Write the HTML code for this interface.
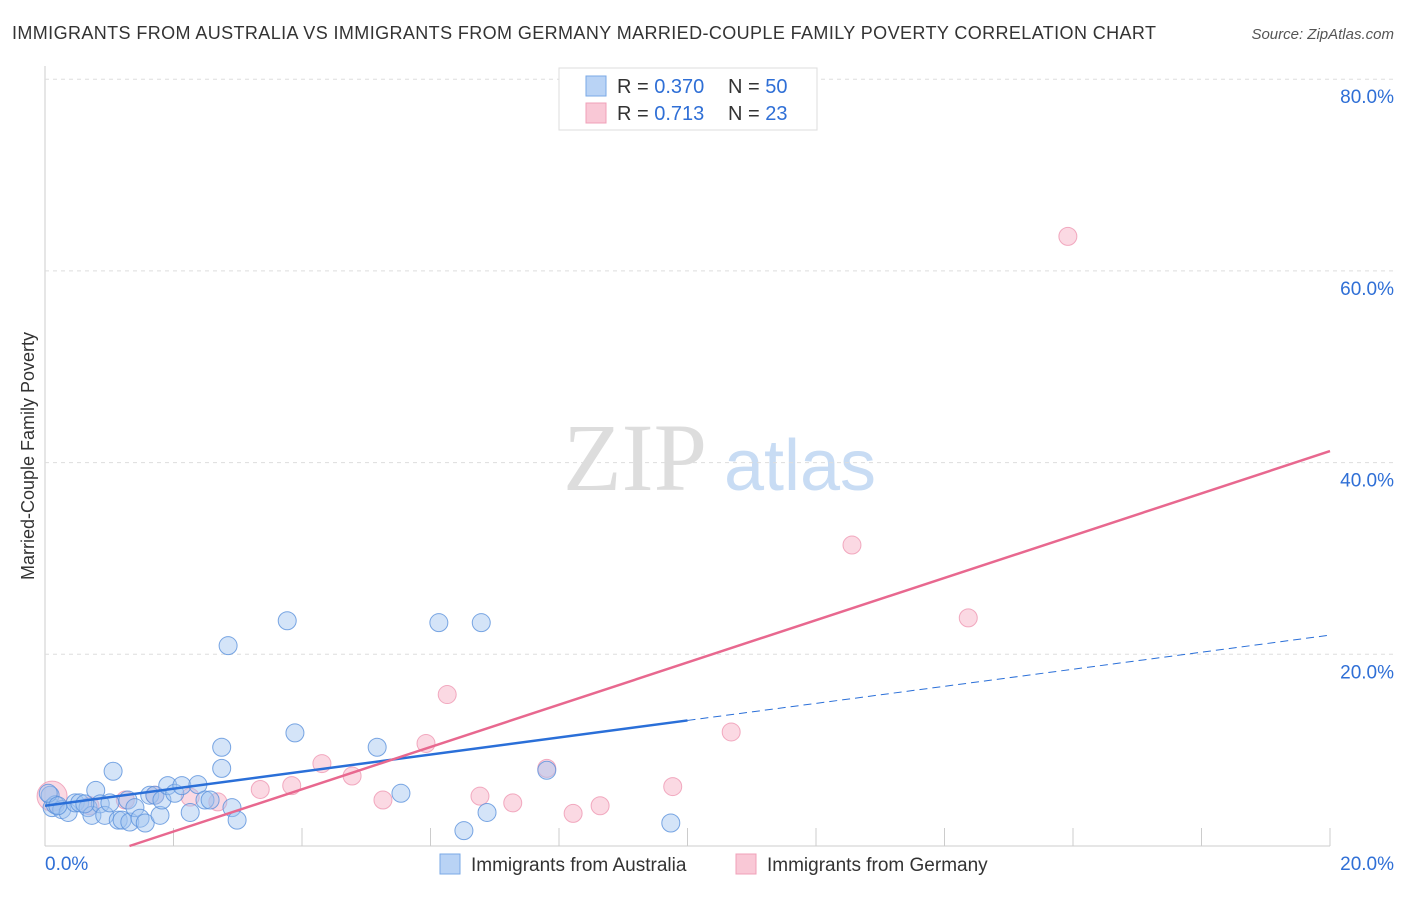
<!DOCTYPE html>
<html><head><meta charset="utf-8"><style>
body{margin:0;background:#fff;font-family:"Liberation Sans",sans-serif}
</style></head><body>
<svg id="c" width="1406" height="892" xmlns="http://www.w3.org/2000/svg">
<text x="12" y="39" font-size="18" fill="#333" textLength="1144" lengthAdjust="spacing">IMMIGRANTS FROM AUSTRALIA VS IMMIGRANTS FROM GERMANY MARRIED-COUPLE FAMILY POVERTY CORRELATION CHART</text>
<text x="1394" y="39" font-size="15" fill="#555" text-anchor="end" font-style="italic">Source: ZipAtlas.com</text>
<text x="635" y="490" font-size="96" fill="#ddd" text-anchor="middle" font-family="Liberation Serif,serif">ZIP</text>
<text x="800" y="490" font-size="72" fill="#c8dcf4" text-anchor="middle">atlas</text>
<text transform="translate(34,456) rotate(-90)" font-size="18" fill="#333" text-anchor="middle">Married-Couple Family Poverty</text>
<g id="grid"></g><g id="pts"></g><g id="lines"></g>
<g>
<rect x="559" y="68" width="258" height="62" fill="#fff" stroke="#ddd"/>
<rect x="586" y="76" width="20" height="20" fill="#b9d3f5" stroke="#7aa8e6"/>
<rect x="586" y="103" width="20" height="20" fill="#f9c8d6" stroke="#f0a0b8"/>
<text x="617" y="93" font-size="20" fill="#333">R = <tspan fill="#2f6fd6">0.370</tspan></text>
<text x="728" y="93" font-size="20" fill="#333">N = <tspan fill="#2f6fd6">50</tspan></text>
<text x="617" y="120" font-size="20" fill="#333">R =  <tspan fill="#2f6fd6">0.713</tspan></text>
<text x="728" y="120" font-size="20" fill="#333">N =  <tspan fill="#2f6fd6">23</tspan></text>
</g>
<g>
<rect x="440" y="854" width="20" height="20" fill="#b9d3f5" stroke="#7aa8e6"/>
<text x="471" y="871" font-size="19" fill="#333">Immigrants from Australia</text>
<rect x="736" y="854" width="20" height="20" fill="#f9c8d6" stroke="#f0a0b8"/>
<text x="767" y="871" font-size="19" fill="#333">Immigrants from Germany</text>
</g>
<text x="45" y="870" font-size="19" fill="#2f6fd6">0.0%</text>
<text x="1394" y="870" font-size="19" fill="#2f6fd6" text-anchor="end">20.0%</text>
</svg>
<script>
const yTicks=[20,40,60,80];
const xTicks=[0,2,4,6,8,10,12,14,16,18,20];
const ausX=[0.08,0.11,0.16,0.26,0.36,0.47,0.54,0.67,0.73,0.79,0.86,0.93,1.01,1.06,1.14,1.20,1.29,1.32,1.40,1.48,1.56,1.63,1.71,1.79,1.82,1.91,2.02,2.13,2.26,2.38,2.49,2.57,2.75,2.75,2.85,2.91,2.99,3.77,3.89,5.17,5.54,6.13,6.52,6.79,6.88,7.81,9.74,0.05,0.20,0.62];
const ausY=[5.3,4.0,4.3,3.8,3.5,4.5,4.5,4.0,3.2,5.8,4.4,3.2,4.5,7.8,2.7,2.7,4.8,2.5,4.0,2.9,2.4,5.3,5.3,3.2,4.8,6.3,5.5,6.3,3.5,6.4,4.8,4.8,10.3,8.1,20.9,4.0,2.7,23.5,11.8,10.3,5.5,23.3,1.6,23.3,3.5,7.9,2.4,5.5,4.2,4.4];
const gerX=[0.11,0.70,1.25,1.71,2.26,2.69,3.35,3.84,4.31,4.78,5.26,5.93,6.26,6.77,7.28,7.81,8.22,8.64,9.77,10.68,12.56,14.37,15.92];
const gerY=[5.2,4.2,4.8,5.3,5.1,4.6,5.9,6.3,8.6,7.3,4.8,10.7,15.8,5.2,4.5,8.1,3.4,4.2,6.2,11.9,31.4,23.8,63.6];
const ausLine=[4.2,22.0];
const gerLine=[-2.9,41.2];
const ausSolidEnd=10;
const X=v=>45+v*1285/20, Y=v=>846-v*191.7/20;
const NS="http://www.w3.org/2000/svg";
function mk(t,a,p){const e=document.createElementNS(NS,t);for(const k in a)e.setAttribute(k,a[k]);p.appendChild(e);return e;}
const grid=document.getElementById('grid'),pts=document.getElementById('pts'),lines=document.getElementById('lines');
mk('line',{x1:45,y1:66,x2:45,y2:846,stroke:'#ccc'},grid);
mk('line',{x1:45,y1:846,x2:1330,y2:846,stroke:'#ccc'},grid);
yTicks.forEach(t=>{
 const l=mk('line',{x1:45,y1:Y(t),x2:1394,y2:Y(t),stroke:'#ddd','stroke-dasharray':'4,4'},grid);
 
 
 const tx=mk('text',{x:1394,y:Y(t)+24,'font-size':19,fill:'#2f6fd6','text-anchor':'end'},grid);
 tx.textContent=t.toFixed(1)+'%';
 
 
});
xTicks.forEach(t=>{
 const l=mk('line',{x1:X(t),y1:828,x2:X(t),y2:846,stroke:'#ccc'},grid);
 
 
});
gerX.forEach((v,i)=>{
 const c=mk('circle',{cx:X(v),cy:Y(gerY[i]),r:i===0?15:9,fill:'rgba(248,180,200,0.5)',stroke:'rgba(236,140,170,0.7)'},pts);
 
 
});
ausX.forEach((v,i)=>{
 const c=mk('circle',{cx:X(v),cy:Y(ausY[i]),r:9,fill:'rgba(160,196,240,0.45)',stroke:'rgba(90,145,220,0.8)'},pts);
 
 
});
const ay=x=>ausLine[0]+(ausLine[1]-ausLine[0])*x/20, gy=x=>gerLine[0]+(gerLine[1]-gerLine[0])*x/20;
let l=mk('line',{x1:X(0),y1:Y(ay(0)),x2:X(ausSolidEnd),y2:Y(ay(ausSolidEnd)),stroke:'#2a6fd8','stroke-width':2.5},lines);


l=mk('line',{x1:X(ausSolidEnd),y1:Y(ay(ausSolidEnd)),x2:X(20),y2:Y(ay(20)),stroke:'#2a6fd8','stroke-width':1,'stroke-dasharray':'8,5'},lines);


const g0=-gerLine[0]*20/(gerLine[1]-gerLine[0]);
l=mk('line',{x1:X(g0),y1:Y(0),x2:X(20),y2:Y(gy(20)),stroke:'#e8688f','stroke-width':2.5},lines);


</script>
</body></html>
